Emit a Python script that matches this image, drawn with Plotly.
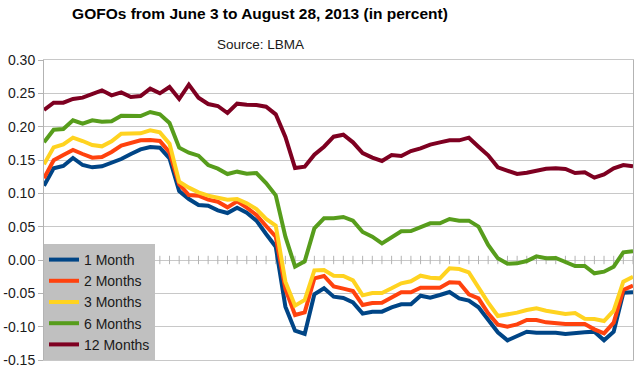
import pandas as pd
import plotly.graph_objects as go

# Business days (London fixing days) June 3 - Aug 28, 2013 (Aug 26 bank holiday)
dates = [d.strftime("%Y-%m-%d") for d in pd.bdate_range("2013-06-03", "2013-08-28") if d.strftime("%Y-%m-%d") != "2013-08-26"]

m1 = [0.1115, 0.1375, 0.141, 0.153, 0.1425, 0.139, 0.1405, 0.1455, 0.1515, 0.159, 0.166, 0.1695, 0.1685, 0.1525, 0.1035, 0.0915,
      0.0825, 0.0815, 0.0745, 0.0705, 0.0785, 0.071, 0.059, 0.039, 0.02, -0.07, -0.106, -0.111, -0.0515, -0.0425, -0.055,
      -0.057, -0.0635, -0.0805, -0.0775, -0.0775, -0.071, -0.0665, -0.0665, -0.0535, -0.0565, -0.0525, -0.048, -0.0575, -0.061, -0.071,
      -0.089, -0.1085, -0.1205, -0.114, -0.1075, -0.109, -0.109, -0.109, -0.111, -0.109, -0.1085, -0.1075, -0.1205, -0.1075, -0.049, -0.0485]
m2 = [0.1225, 0.1495, 0.1575, 0.165, 0.159, 0.1535, 0.1545, 0.162, 0.1715, 0.175, 0.1795, 0.18, 0.1785, 0.1615, 0.1135, 0.0975,
      0.0965, 0.0905, 0.0875, 0.079, 0.088, 0.0785, 0.0675, 0.051, 0.035, -0.0435, -0.0825, -0.0785, -0.0275, -0.024, -0.0395,
      -0.043, -0.0465, -0.0675, -0.0645, -0.064, -0.0565, -0.0485, -0.0485, -0.0415, -0.0415, -0.0415, -0.0335, -0.034, -0.0515, -0.0575,
      -0.08, -0.097, -0.1, -0.0965, -0.09, -0.09, -0.0935, -0.095, -0.096, -0.096, -0.096, -0.104, -0.11, -0.094, -0.045, -0.0385]
m3 = [0.1435, 0.169, 0.1735, 0.1835, 0.1785, 0.1725, 0.1705, 0.178, 0.1895, 0.1895, 0.19, 0.1945, 0.1915, 0.1745, 0.1175, 0.1085,
      0.1015, 0.0965, 0.0935, 0.0905, 0.0915, 0.085, 0.0765, 0.0615, 0.0515, -0.0325, -0.0685, -0.06, -0.0155, -0.015, -0.0235,
      -0.024, -0.0305, -0.053, -0.0495, -0.0495, -0.0425, -0.035, -0.032, -0.0235, -0.0265, -0.0275, -0.0125, -0.0135, -0.0185, -0.0425,
      -0.064, -0.084, -0.082, -0.079, -0.075, -0.0725, -0.076, -0.079, -0.081, -0.0795, -0.088, -0.0885, -0.0915, -0.076, -0.0325, -0.025]
m6 = [0.1765, 0.1955, 0.1965, 0.2095, 0.2045, 0.2095, 0.2075, 0.208, 0.2165, 0.2165, 0.216, 0.222, 0.2185, 0.2055, 0.1685, 0.161,
      0.1565, 0.1425, 0.137, 0.129, 0.1325, 0.1295, 0.1305, 0.1155, 0.097, 0.035, -0.01, -0.002, 0.0475, 0.0625, 0.0625,
      0.0645, 0.059, 0.042, 0.035, 0.025, 0.034, 0.043, 0.0435, 0.05, 0.055, 0.055, 0.0615, 0.059, 0.059, 0.05,
      0.0225, 0.0025, -0.0055, -0.005, -0.0015, 0.0055, 0.0025, 0.003, -0.0035, -0.009, -0.009, -0.02, -0.0175, -0.01, 0.0115, 0.013]
m12 = [0.225, 0.236, 0.236, 0.2415, 0.2435, 0.2485, 0.2545, 0.247, 0.2515, 0.2445, 0.246, 0.257, 0.25, 0.2595, 0.2415, 0.263,
       0.2435, 0.234, 0.231, 0.2205, 0.2345, 0.233, 0.2325, 0.23, 0.2185, 0.1845, 0.138, 0.14, 0.158, 0.17, 0.185,
       0.188, 0.1765, 0.1605, 0.1535, 0.1485, 0.1575, 0.156, 0.1635, 0.1675, 0.173, 0.1765, 0.1795, 0.1795, 0.1835, 0.17,
       0.157, 0.139, 0.134, 0.129, 0.131, 0.1335, 0.137, 0.1375, 0.1365, 0.1305, 0.1315, 0.1235, 0.1285, 0.1375, 0.1425, 0.1405]

series_names = ["1 Month", "2 Months", "3 Months", "6 Months", "12 Months"]
series_values = [m1, m2, m3, m6, m12]
series_colors = ["#004586", "#ff420e", "#ffd320", "#579d1c", "#7e0021"]

ytick_vals = [-0.15, -0.10, -0.05, 0.00, 0.05, 0.10, 0.15, 0.20, 0.25, 0.30]
ytick_text = ["-0.15", "-0.10", "-0.05", "0.00", "0.05", "0.10", "0.15", "0.20", "0.25", "0.30"]

GRID = "#c8c8c8"
AXIS = "#b3b3b3"
FONT = "Liberation Sans, Arial, sans-serif"

fig = go.Figure()

# category tick marks on the x axis (which crosses at y = 0)
fig.add_trace(go.Scatter(
    x=dates, y=[0] * len(dates), mode="markers", showlegend=False, hoverinfo="skip",
    marker=dict(symbol="line-ns", size=6, line=dict(width=1, color=AXIS), color=AXIS),
))

for name, vals, col in zip(series_names, series_values, series_colors):
    fig.add_trace(go.Scatter(x=dates, y=vals, mode="lines", name=name,
                             line=dict(color=col, width=4)))

fig.update_layout(
    width=642, height=374,
    margin=dict(l=44, r=9, t=60, b=14, autoexpand=False),
    paper_bgcolor="white", plot_bgcolor="white",
    font=dict(family=FONT, size=14, color="#1a1a1a"),
    title=dict(text="<b>GOFOs from June 3 to August 28, 2013 (in percent)</b>",
               x=260 / 642, xanchor="center", y=1 - 14 / 374, yanchor="middle",
               font=dict(family=FONT, size=15.5, color="black")),
    showlegend=True,
    legend=dict(x=0, y=0, xanchor="left", yanchor="bottom", bgcolor="#c0c0c0",
                borderwidth=0, font=dict(size=14, color="#1a1a1a"), itemwidth=30,
                traceorder="normal", tracegroupgap=0),
    annotations=[dict(text="Source: LBMA", xref="paper", yref="paper",
                      x=(260 - 44) / 589, y=1 + (60 - 45) / 300, xanchor="center", yanchor="middle",
                      showarrow=False, font=dict(size=13.5, color="#1a1a1a"))],
)
fig.update_xaxes(type="category", range=[0, len(dates) - 1], showgrid=False, showticklabels=False,
                 zeroline=False, showline=True, linecolor=GRID, linewidth=1, mirror=True, ticks="",
                 automargin=False)
fig.update_yaxes(range=[-0.15, 0.30], tickvals=ytick_vals, ticktext=ytick_text, showgrid=True,
                 gridcolor=GRID, gridwidth=1, zeroline=False, showline=True, linecolor=AXIS, mirror=True,
                 ticks="outside", ticklen=5, tickcolor=AXIS, tickfont=dict(size=14, color="#1a1a1a"),
                 automargin=False)

fig.write_html("out.html", config={"displayModeBar": False},
               post_script="document.body.style.margin='0';document.body.style.padding='0';document.body.style.overflow='hidden';")
